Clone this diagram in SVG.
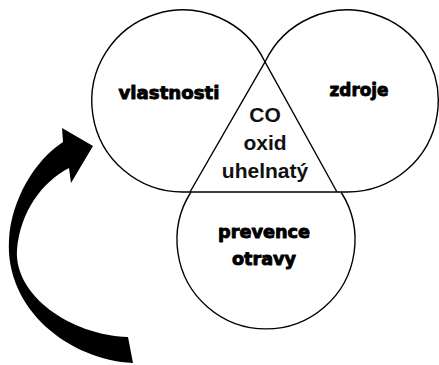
<svg xmlns="http://www.w3.org/2000/svg" width="439" height="365" viewBox="0 0 439 365">
<style>
.ln{fill:none;stroke:#000;stroke-width:1.4}
.lbl{font-family:"DejaVu Sans","Liberation Sans",sans-serif;font-weight:bold;font-size:18px;fill:#000;stroke:#000;stroke-width:0.9;stroke-linejoin:round;text-anchor:middle}
.co{font-family:"Liberation Sans",Arial,sans-serif;font-weight:bold;font-size:21px;fill:#111;text-anchor:middle}
</style>
<rect width="439" height="365" fill="#fff"/>
<g id="vlastnosti">
<path class="ln" d="M265 62 A91 91 0 1 0 183 192"/>
<text class="lbl" x="169" y="99" textLength="101" lengthAdjust="spacingAndGlyphs">vlastnosti</text>
</g>
<g id="zdroje">
<path class="ln" d="M265 62 A91 91 0 1 1 347 192"/>
<text class="lbl" x="359" y="96" textLength="59" lengthAdjust="spacingAndGlyphs">zdroje</text>
</g>
<g id="co">
<path class="ln" d="M190 192 L265 62 L337 192 M183 192 L347 192"/>
<text class="co" x="265" y="122">CO</text>
<text class="co" x="265" y="150">oxid</text>
<text class="co" x="265" y="178">uhelnatý</text>
</g>
<g id="prevence">
<path class="ln" d="M191 192 A89 89 0 1 0 341 192"/>
<text class="lbl" x="264" y="238" textLength="92" lengthAdjust="spacingAndGlyphs">prevence</text>
<text class="lbl" x="264" y="265" textLength="64" lengthAdjust="spacingAndGlyphs">otravy</text>
</g>
<g id="connectors">
<path fill="#000" d="M133 363 C70 360 5 310 9 240 C11 200 35 160 63 142 L62 128 L93 146 L71 183 L69 168 C42 182 20 212 17 250 C14 295 70 335 128 337 Z"/>
</g>
</svg>
